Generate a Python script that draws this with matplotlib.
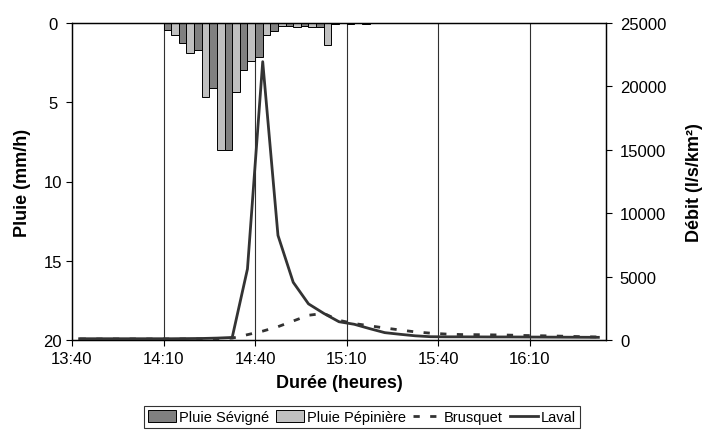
import matplotlib
matplotlib.use("Agg")
import matplotlib.pyplot as plt
from matplotlib.lines import Line2D
from matplotlib.patches import Patch

plt.rcParams['font.family'] = ['Liberation Sans', 'DejaVu Sans']
plt.rcParams['lines.scale_dashes'] = False

# 5-minute time steps starting at 13:40 (35 steps)
step_min = 5
n_steps = 35

# Rainfall intensity (mm/h) per time step
pluie_sevigne = [0, 0, 0, 0, 0, 0, 0.44, 1.29, 1.71, 4.09, 8.0, 2.97, 2.17, 0.48,
                 0.19, 0.19, 0.27, 0.06, 0.04, 0.05, 0, 0, 0, 0, 0, 0, 0, 0,
                 0, 0, 0, 0, 0, 0, 0]
pluie_pepiniere = [0, 0, 0, 0, 0, 0, 0.78, 1.88, 4.67, 8.0, 4.36, 2.38, 0.78, 0.19,
                   0.27, 0.27, 1.39, 0, 0, 0, 0, 0, 0, 0, 0, 0, 0, 0,
                   0, 0, 0, 0, 0, 0, 0]

# Specific discharge (l/s/km²) per time step
debit_brusquet = [80, 80, 80, 80, 80, 80, 80, 80, 80, 90, 150, 420, 700, 1050,
                  1500, 1950, 2100, 1550, 1300, 1120, 950, 790, 640, 540, 470, 430,
                  420, 405, 390, 360, 340, 320, 290, 260, 240]
debit_laval = [100, 100, 100, 100, 100, 100, 100, 110, 120, 150, 200, 5600, 21950, 8250,
               4550, 2850, 2100, 1440, 1240, 900, 580, 450, 330, 260, 250, 250,
               245, 240, 240, 235, 230, 225, 220, 215, 210]

tick_labels = ["13:40", "14:10", "14:40", "15:10", "15:40", "16:10"]
tick_every = 6  # one label every 30 minutes

fig = plt.figure(figsize=(7.07, 4.39), dpi=100)
ax = fig.add_axes([72 / 707, 1 - 341 / 439, (606 - 72) / 707, (341 - 24) / 439])

starts = [k * step_min for k in range(n_steps)]
centers = [s + step_min / 2 for s in starts]
half = step_min / 2

ax.bar(starts, pluie_sevigne, width=half, align='edge', color='#808080',
       edgecolor='black', linewidth=0.7, zorder=2)
ax.bar([s + half for s in starts], pluie_pepiniere, width=half, align='edge',
       color='#C0C0C0', edgecolor='black', linewidth=0.7, zorder=2)

ax.set_xlim(0, n_steps * step_min)
ax.set_ylim(20, 0)
ax.set_yticks([0, 5, 10, 15, 20])
tick_pos = [i * tick_every * step_min for i in range(len(tick_labels))]
ax.set_xticks(tick_pos)
ax.set_xticklabels(tick_labels)
for x in tick_pos[1:]:
    ax.axvline(x, color='#303030', linewidth=0.8, zorder=1)

ax.tick_params(axis='y', direction='out', length=4, width=0.8, labelsize=12, pad=10)
ax.tick_params(axis='x', direction='out', length=4, width=0.8, labelsize=12, pad=4)
for lab in ax.get_yticklabels():
    lab.set_horizontalalignment('center')
for sp in ax.spines.values():
    sp.set_linewidth(0.9)
    sp.set_color('black')

ax.set_ylabel("Pluie (mm/h)", fontsize=13, fontweight='bold', labelpad=9)
ax.set_xlabel("Durée (heures)", fontsize=13, fontweight='bold', labelpad=6)

ax2 = ax.twinx()
ax2.plot(centers, debit_brusquet, color='#333333', linewidth=2.0,
         dashes=(4.5, 7.5), solid_capstyle='butt', zorder=3)
ax2.plot(centers, debit_laval, color='#333333', linewidth=2.0, zorder=4)
ax2.set_ylim(0, 25000)
ax2.set_yticks([0, 5000, 10000, 15000, 20000, 25000])
ax2.tick_params(axis='y', direction='out', length=4, width=0.8, labelsize=12, pad=6)
ax2.set_ylabel("Débit (l/s/km²)", fontsize=13, fontweight='bold', labelpad=14)
for sp in ax2.spines.values():
    sp.set_linewidth(0.9)
    sp.set_color('black')

handles = [
    Patch(facecolor='#808080', edgecolor='black', linewidth=0.7),
    Patch(facecolor='#C0C0C0', edgecolor='black', linewidth=0.7),
    Line2D([0], [0], color='#333333', linewidth=2.0, dashes=(4.5, 7.5)),
    Line2D([0], [0], color='#333333', linewidth=2.0),
]
labels = ["Pluie Sévigné", "Pluie Pépinière", "Brusquet", "Laval"]
leg = fig.legend(handles, labels, loc='center', bbox_to_anchor=(362 / 707, 1 - 418 / 439),
                 ncol=4, fontsize=10.5, frameon=True, fancybox=False, edgecolor='black',
                 handlelength=1.9, handleheight=0.8, handletextpad=0.2, columnspacing=0.5,
                 borderpad=0.3, borderaxespad=0)
leg.get_frame().set_linewidth(0.8)

fig.savefig("out.png", dpi=100)
